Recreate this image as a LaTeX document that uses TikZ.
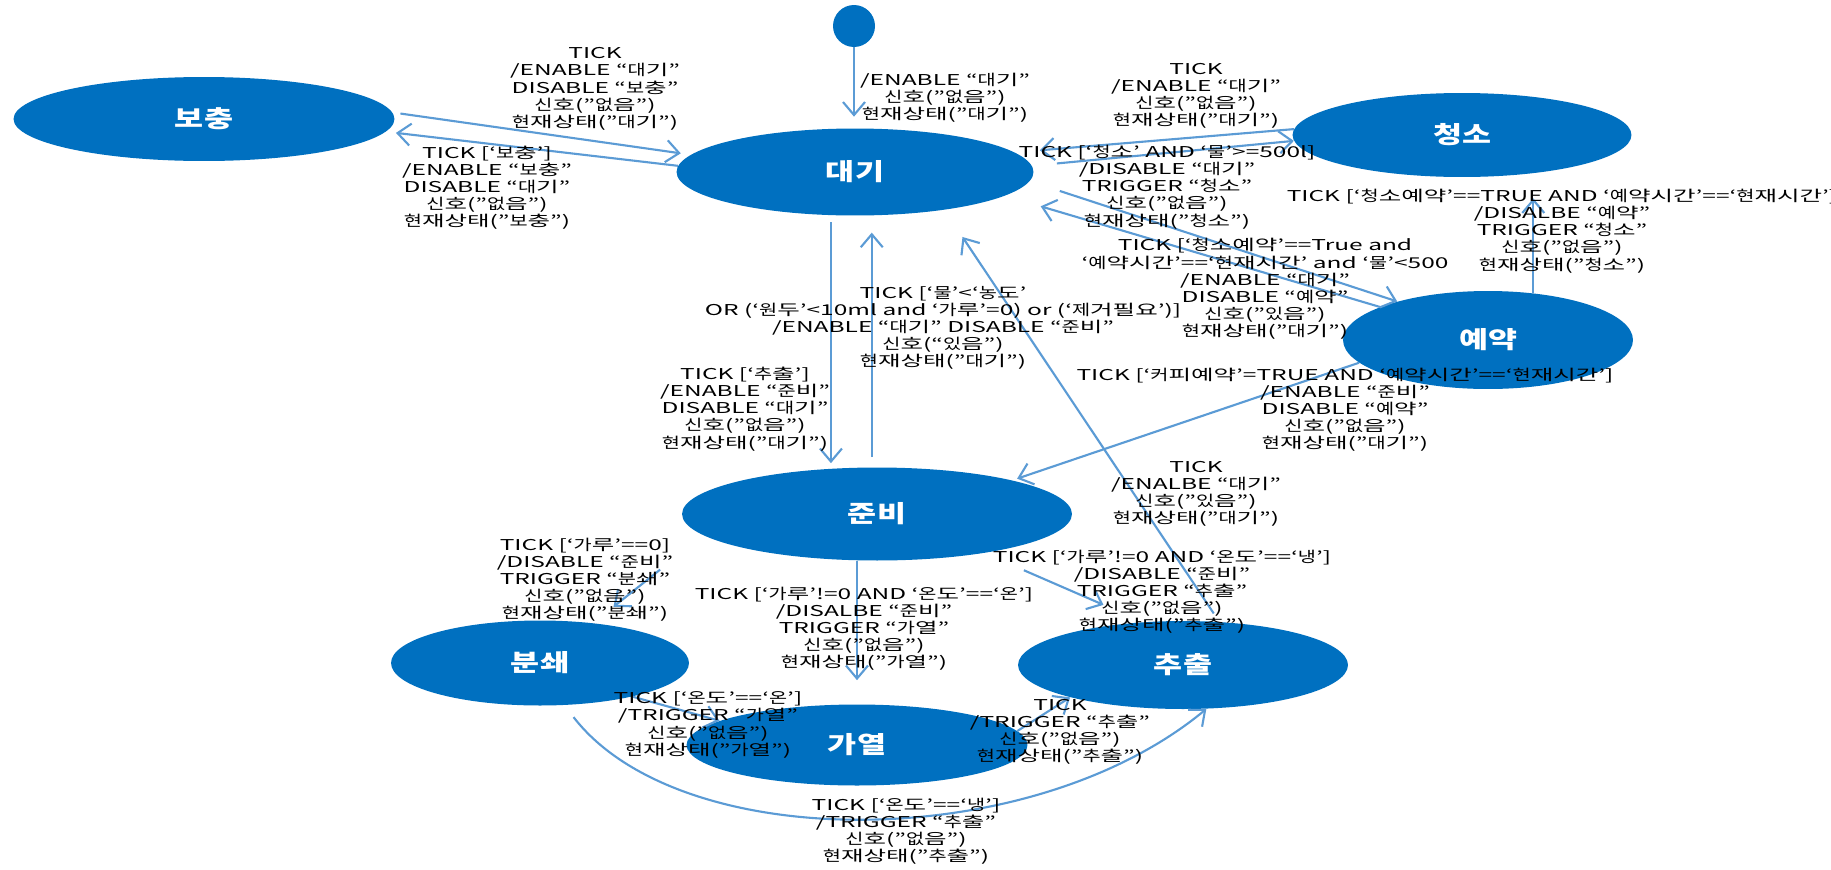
\documentclass[tikz,border=0pt]{standalone}
\usepackage{fontspec}
\setmainfont{Noto Sans CJK KR}[FakeStretch=1.64]
\newfontfamily\latfont{Noto Sans CJK KR}[FakeStretch=1.64]
\newfontfamily\hanfont{Noto Sans CJK KR}[FakeStretch=1.32]
\newfontfamily\statefont{Noto Sans CJK KR}[FakeStretch=1.33]
\usetikzlibrary{arrows.meta,shapes.geometric}
\definecolor{statefill}{RGB}{0,112,192}
\definecolor{trline}{RGB}{91,155,213}
% hangul syllables get their own (narrower) face
\XeTeXinterchartokenstate=1
\newXeTeXintercharclass\hanclass
\count255="AC00
\loop
  \XeTeXcharclass\count255=\hanclass
\ifnum\count255<"D7A3
  \advance\count255 by 1
\repeat
\XeTeXinterchartoks 0 \hanclass = {\hanfont}
\XeTeXinterchartoks 1 \hanclass = {\hanfont}
\XeTeXinterchartoks 2 \hanclass = {\hanfont}
\XeTeXinterchartoks 3 \hanclass = {\hanfont}
\XeTeXinterchartoks 4095 \hanclass = {\hanfont}
\XeTeXinterchartoks \hanclass 0 = {\latfont}
\XeTeXinterchartoks \hanclass 1 = {\latfont}
\XeTeXinterchartoks \hanclass 2 = {\latfont}
\XeTeXinterchartoks \hanclass 3 = {\latfont}
\XeTeXinterchartoks \hanclass 4095 = {\latfont}
\newcommand\statelblfont{\XeTeXinterchartokenstate=0\relax\statefont\fontsize{13.5}{13.5}\selectfont\bfseries}
\tikzset{
  state/.style={ellipse, fill=statefill, inner sep=0pt, text=white, font=\statelblfont},
  tr/.style={draw=trline, line width=1.2pt, -{Straight Barb[length=2.6mm,width=4.4mm]}},
  lbl/.style={align=center, inner sep=0pt, font=\fontsize{8.5}{9.75}\selectfont},
}

\begin{document}
\begin{tikzpicture}[x=0.02cm, y=-0.02cm]
		%%%%% START %%%%%
		\fill[white] (0,0) rectangle (1831,869);
		\useasboundingbox (0,0) rectangle (1831,869);
		
		\node[circle, fill=statefill, minimum size=0.84cm, inner sep=0pt] (init) at (854,26) {};
		\node[state, minimum width=7.62cm, minimum height=1.68cm] (bochung) at (204,119) {보충};
		\node[state, minimum width=7.14cm, minimum height=1.74cm] (daegi) at (855,172) {대기};
		\node[state, minimum width=6.78cm, minimum height=1.68cm] (cheongso) at (1462,135) {청소};
		\node[state, minimum width=5.8cm, minimum height=1.96cm] (yeyak) at (1488,340) {예약};
		\node[state, minimum width=7.8cm, minimum height=1.86cm] (junbi) at (877,514) {준비};
		\node[state, minimum width=5.96cm, minimum height=1.7cm] (bunswae) at (540,663) {분쇄};
		\node[state, minimum width=6.82cm, minimum height=1.62cm] (garyeol) at (857,745) {가열};
		\node[state, minimum width=6.6cm, minimum height=1.76cm] (chuchul) at (1183,665) {추출};
		
		\draw[tr, shorten >=0.23cm] (init) -- (init |- daegi.north);
		\draw[tr, shorten <=0.16cm, shorten >=0.2cm] (bochung.2) -- (daegi.174);
		\draw[tr, shorten >=0.2cm] (daegi.178) -- (bochung.-4);
		\draw[tr, shorten >=0.5cm] (cheongso.178) -- (daegi.7);
		\draw[tr, shorten <=0.5cm] (daegi.2) -- (cheongso.182);
		\draw[tr, shorten >=0.42cm] (yeyak.46.5) -- (yeyak.46.5 |- cheongso.south);
		\draw[tr, shorten >=0.74cm] (yeyak.163) -- (daegi.-9);
		\draw[tr, shorten <=0.63cm] (daegi.-3) -- (yeyak.157);
		\draw[tr, shorten >=0.1cm] (yeyak.190) -- (junbi.14);
		\draw[tr, shorten <=0.14cm, shorten >=0.08cm] (daegi.241) -- (daegi.241 |- junbi.north);
		\draw[tr, shorten <=0.2cm, shorten >=0.34cm] (daegi.291 |- junbi.north) -- (daegi.291);
		\draw[tr, shorten <=0.2cm, shorten >=0.65cm] (chuchul.50) -- (daegi.-23);
		\draw[tr, shorten <=1.1cm, shorten >=0.52cm] (junbi.187) -- (bunswae.37);
		\draw[tr, shorten >=0.48cm] (garyeol.north |- junbi.south) -- (garyeol.north);
		\draw[tr, shorten <=0.86cm, shorten >=0.86cm] (junbi.-20) -- (chuchul.133.5);
		\draw[tr] (bunswae.-20) -- (garyeol.170);
		\draw[tr, shorten <=0.3cm] (bunswae.-60) .. controls (680,855) and (1030,855) .. (chuchul.-62);
		\draw[tr] (garyeol.5) -- (chuchul.196);
		
		\node[lbl] (linit) at (945,98) {/ENABLE “대기”\\신호(”없음”)\\현재상태(”대기”)};
		\node[lbl] (lbd) at (595,89) {TICK\\/ENABLE “대기”\\DISABLE “보충”\\신호(”없음”)\\현재상태(”대기”)};
		\node[lbl] (ldb) at (487,188) {TICK [‘보충’]\\/ENABLE “보충”\\DISABLE “대기”\\신호(”없음”)\\현재상태(”보충”)};
		\node[lbl] (lcd) at (1196,96) {TICK\\/ENABLE “대기”\\신호(”없음”)\\현재상태(”대기”)};
		\node[lbl] (ldc) at (1167,187) {TICK [‘청소’ AND ‘물’>=500l]\\/DISABLE “대기”\\TRIGGER “청소”\\신호(”없음”)\\현재상태(”청소”)};
		\node[lbl] (lyc) at (1562,231) {TICK [‘청소예약’==TRUE AND ‘예약시간’==‘현재시간’]\\/DISALBE “예약”\\TRIGGER “청소”\\신호(”없음”)\\현재상태(”청소”)};
		\node[lbl] (lyd) at (1265,289) {TICK [‘청소예약’==True and\\‘예약시간’==‘현재시간’ and ‘물’<500\\/ENABLE “대기”\\DISABLE “예약”\\신호(”있음”)\\현재상태(”대기”)};
		\node[lbl] (ljd) at (943,328) {TICK [‘물’<‘농도’\\OR (‘원두’<10ml and ‘가루’=0) or (‘제거필요’)]\\/ENABLE “대기” DISABLE “준비”\\신호(“있음”)\\현재상태(”대기”)};
		\node[lbl] (ldj) at (745,409) {TICK [‘추출’]\\/ENABLE “준비”\\DISABLE “대기”\\신호(”없음”)\\현재상태(”대기”)};
		\node[lbl] (lyj) at (1345,410) {TICK [‘커피예약’=TRUE AND ‘예약시간’==‘현재시간’]\\/ENABLE “준비”\\DISABLE “예약”\\신호(”없음”)\\현재상태(”대기”)};
		\node[lbl] (lcd2) at (1196,494) {TICK\\/ENALBE “대기”\\신호(”있음”)\\현재상태(”대기”)};
		\node[lbl] (ljb) at (585,580) {TICK [‘가루’==0]\\/DISABLE “준비”\\TRIGGER “분쇄”\\신호(”없음”)\\현재상태(”분쇄”)};
		\node[lbl] (ljg) at (864,629) {TICK [‘가루’!=0 AND ‘온도’==‘온’]\\/DISALBE “준비”\\TRIGGER “가열”\\신호(”없음”)\\현재상태(”가열”)};
		\node[lbl] (ljc) at (1162,592) {TICK [‘가루’!=0 AND ‘온도’==‘냉’]\\/DISABLE “준비”\\TRIGGER “추출”\\신호(”없음”)\\현재상태(”추출”)};
		\node[lbl] (lbg) at (708,725) {TICK [‘온도’==‘온’]\\/TRIGGER “가열”\\신호(”없음”)\\현재상태(”가열”)};
		\node[lbl] (lgc) at (1060,732) {TICK\\/TRIGGER “추출”\\신호(”없음”)\\현재상태(”추출”)};
		\node[lbl] (lbc) at (906,831) {TICK [‘온도’==‘냉’]\\/TRIGGER “추출”\\신호(”없음”)\\현재상태(”추출”)};
		%%%%% END %%%%%
\end{tikzpicture}
\end{document}
